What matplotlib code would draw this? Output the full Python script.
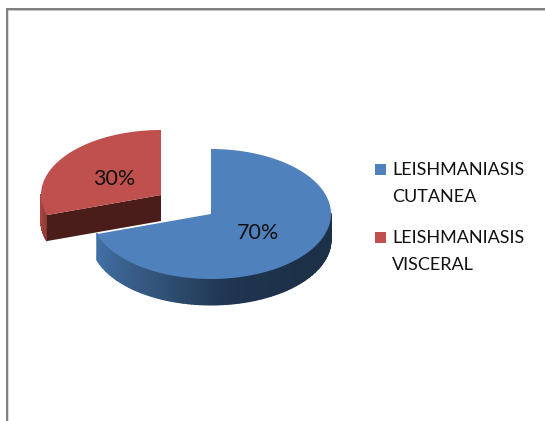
import numpy as np
import matplotlib
matplotlib.use('Agg')
import matplotlib.pyplot as plt
from matplotlib.colors import LinearSegmentedColormap
from matplotlib.patches import Rectangle

#Chart data
categories = ['LEISHMANIASIS\nCUTANEA', 'LEISHMANIASIS\nVISCERAL']
values = [70, 30]
labels = ['70%', '30%']
colors = ['#4f81bd', '#c0504d']

#Pie geometry in pixels
rx, ry, depth = 120, 65, 26
centers = [(211, 214), (161, 195)]

plt.rcParams['font.family'] = ['Lato', 'DejaVu Sans']

fig = plt.figure(figsize=(5.45, 4.21), dpi=100)
ax = fig.add_axes([0, 0, 1, 1])
ax.set_xlim(0, 545)
ax.set_ylim(421, 0)
ax.axis('off')

#Border on top and left, the picture is cropped on the other sides
ax.add_patch(Rectangle((6, 8), 539, 2, color='#808080', lw=0))
ax.add_patch(Rectangle((6, 10), 539, 1, color='#c4c4c4', lw=0))
ax.add_patch(Rectangle((6, 8), 2, 413, color='#808080', lw=0))
ax.add_patch(Rectangle((8, 11), 1, 410, color='#dcdcdc', lw=0))


#Point on the rim, angle in degrees clockwise from 12 o'clock
def rim(center, angle):
    a = np.radians(angle)
    return center[0] + rx * np.sin(a), center[1] - ry * np.cos(a)


#Side wall as a smooth mesh, shaded along the angle
def wall(center, start, stop, shades):
    ang = np.linspace(start, stop, 120)
    xs, ys = rim(center, ang)
    X = np.vstack([xs, xs])
    Y = np.vstack([ys - 1, ys + depth])
    T = np.vstack([ang, ang])
    cmap = LinearSegmentedColormap.from_list('wall', shades)
    ax.pcolormesh(X, Y, T, shading='gouraud', cmap=cmap, zorder=2)


#Top of a slice
def top(center, start, stop, color, zorder):
    ang = np.linspace(start, stop, 200)
    xs, ys = rim(center, ang)
    ax.fill(np.r_[center[0], xs], np.r_[center[1], ys], color=color, lw=0, zorder=zorder)


sweep = np.cumsum([0] + values) / sum(values) * 360

#Blue slice, the wall is only visible between 3 o'clock and the slice end
wall(centers[0], 90, sweep[1], ['#1c3048', '#1c3048', '#1f3550', '#35577f', '#4272a8'])
top(centers[0], sweep[0], sweep[1], colors[0], 3)

#Red slice, pulled out to the upper left
cx, cy = centers[1]
ex, ey = rim(centers[1], sweep[1])
wall(centers[1], sweep[1], 270, ['#8f3c39', '#a84643'])
ax.fill([cx, cx, ex, ex], [cy, cy + depth, ey + depth, ey], color='#4a1c1a', lw=0, zorder=4)
top(centers[1], sweep[1], sweep[2], colors[1], 5)

#Value labels
ax.text(258, 233, labels[0], fontsize=15.5, color='#111111', ha='center', va='center', zorder=6)
ax.text(114, 179, labels[1], fontsize=15.5, color='#111111', ha='center', va='center', zorder=6)

#Legend
for y, name, c in zip([169, 237], categories, colors):
    ax.add_patch(Rectangle((375, y - 5.5), 11, 11, color=c, lw=0))
    first, second = name.split('\n')
    ax.text(392, y + 1, first, fontsize=13, color='#111111', va='center')
    ax.text(392, y + 28, second, fontsize=13, color='#111111', va='center')

fig.savefig('out.png', dpi=100)
